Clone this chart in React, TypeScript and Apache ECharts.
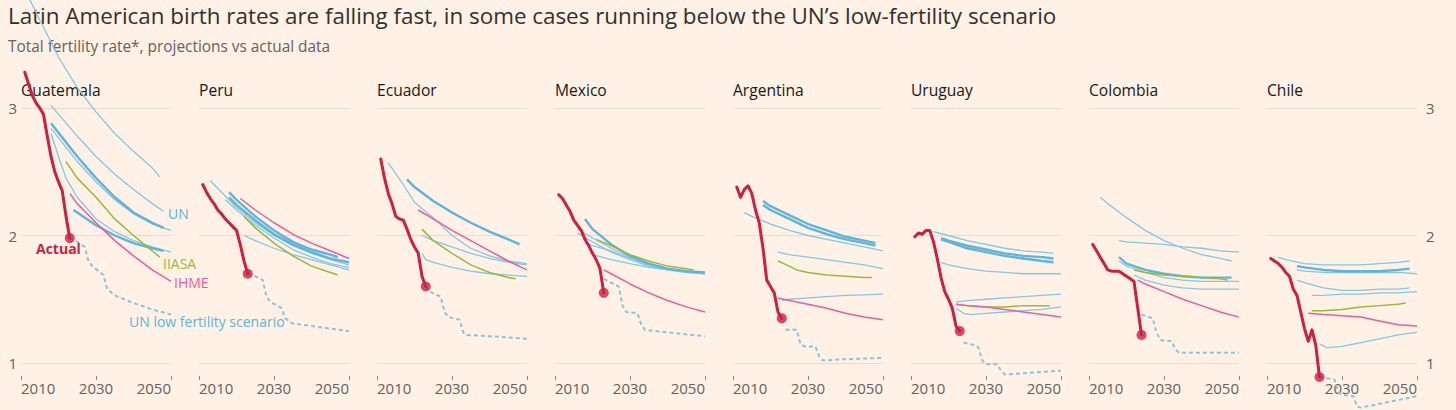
import React, { useEffect, useRef } from "react";
import * as echarts from "echarts";

// ---------- DATA ----------
const countries = ["Guatemala", "Peru", "Ecuador", "Mexico", "Argentina", "Uruguay", "Colombia", "Chile"];
const xTicks = [2010, 2030, 2050];
const yTicks = [1, 2, 3];

// Guatemala
const guatemalaActual = [[2011, 3.28], [2012, 3.19], [2013, 3.1], [2014, 3.04], [2015, 3.0], [2016, 2.95], [2017, 2.78], [2018, 2.62], [2019, 2.5], [2020, 2.42], [2021, 2.35], [2022, 2.15], [2023, 1.98]];
const guatemalaUN = [
  [[2012, 3.87], [2015, 3.69], [2020, 3.4], [2025, 3.16], [2030, 2.97], [2035, 2.8], [2040, 2.66], [2045, 2.53], [2047, 2.46]],
  [[2018, 3.02], [2025, 2.78], [2030, 2.62], [2035, 2.48], [2040, 2.36], [2045, 2.25], [2048, 2.19]],
  [[2018, 2.88], [2025, 2.62], [2030, 2.45], [2035, 2.3], [2040, 2.18], [2045, 2.1], [2048, 2.06]],
  [[2018, 2.84], [2025, 2.58], [2030, 2.42], [2035, 2.28], [2040, 2.17], [2045, 2.09], [2050, 2.04]],
  [[2018, 2.8], [2020, 2.62], [2022, 2.45], [2025, 2.3], [2030, 2.13], [2035, 2.03], [2040, 1.96], [2045, 1.91], [2050, 1.87]],
  [[2024, 2.2], [2030, 2.08], [2035, 2.0], [2040, 1.94], [2045, 1.9], [2048, 1.88]],
];
const guatemalaIIASA = [[2022, 2.58], [2025, 2.45], [2030, 2.3], [2035, 2.13], [2040, 2.0], [2045, 1.88], [2047, 1.83]];
const guatemalaIHME = [[2023, 2.33], [2025, 2.25], [2030, 2.1], [2035, 1.96], [2040, 1.84], [2045, 1.73], [2050, 1.64]];
const guatemalaLow = [[2023, 1.98], [2025, 1.95], [2027, 1.91], [2028, 1.8], [2029, 1.76], [2032, 1.69], [2033, 1.58], [2035, 1.53], [2040, 1.47], [2045, 1.42], [2050, 1.38]];

// Peru
const peruActual = [[2011, 2.4], [2012, 2.34], [2013, 2.29], [2014, 2.25], [2015, 2.2], [2016, 2.17], [2017, 2.13], [2018, 2.1], [2019, 2.07], [2020, 2.04], [2021, 1.93], [2022, 1.8], [2023, 1.7]];
const peruUN = [
  [[2013, 2.43], [2020, 2.22], [2025, 2.1], [2030, 2.0], [2035, 1.92], [2040, 1.86], [2045, 1.81], [2050, 1.77]],
  [[2018, 2.34], [2020, 2.28], [2025, 2.15], [2030, 2.04], [2035, 1.95], [2040, 1.89], [2045, 1.85], [2047, 1.83]],
  [[2018, 2.3], [2020, 2.24], [2025, 2.12], [2030, 2.01], [2035, 1.93], [2040, 1.87], [2045, 1.82], [2050, 1.79]],
  [[2017, 2.28], [2020, 2.2], [2025, 2.08], [2030, 1.98], [2035, 1.89], [2040, 1.83], [2045, 1.78], [2050, 1.75]],
  [[2022, 2.0], [2025, 1.96], [2030, 1.9], [2035, 1.85], [2040, 1.81], [2045, 1.77], [2050, 1.73]],
];
const peruIIASA = [[2022, 2.15], [2025, 2.06], [2030, 1.94], [2035, 1.84], [2040, 1.76], [2045, 1.71], [2047, 1.69]];
const peruIHME = [[2021, 2.29], [2025, 2.2], [2030, 2.1], [2035, 2.01], [2040, 1.94], [2045, 1.88], [2050, 1.82]];
const peruLow = [[2023, 1.7], [2025, 1.68], [2027, 1.65], [2028, 1.52], [2029, 1.48], [2032, 1.43], [2033, 1.35], [2035, 1.31], [2040, 1.29], [2045, 1.27], [2050, 1.25]];

// Ecuador
const ecuadorActual = [[2011, 2.6], [2012, 2.45], [2013, 2.33], [2014, 2.25], [2015, 2.15], [2016, 2.13], [2017, 2.12], [2018, 2.05], [2019, 1.97], [2020, 1.91], [2021, 1.86], [2022, 1.68], [2023, 1.6]];
const ecuadorUN = [
  [[2013, 2.57], [2017, 2.4], [2020, 2.26], [2025, 2.14], [2030, 2.0], [2035, 1.9], [2040, 1.84], [2045, 1.8], [2050, 1.78]],
  [[2018, 2.44], [2020, 2.38], [2025, 2.27], [2030, 2.18], [2035, 2.1], [2040, 2.03], [2045, 1.97], [2048, 1.93]],
  [[2022, 2.0], [2025, 1.96], [2030, 1.91], [2035, 1.86], [2040, 1.82], [2045, 1.79], [2050, 1.77]],
  [[2022, 1.86], [2023, 1.81], [2025, 1.79], [2030, 1.75], [2035, 1.72], [2040, 1.7], [2045, 1.69], [2050, 1.68]],
];
const ecuadorIIASA = [[2022, 2.05], [2025, 1.96], [2030, 1.86], [2035, 1.77], [2040, 1.71], [2045, 1.67], [2047, 1.66]];
const ecuadorIHME = [[2021, 2.2], [2025, 2.13], [2030, 2.04], [2035, 1.96], [2040, 1.88], [2045, 1.8], [2050, 1.73]];
const ecuadorLow = [[2023, 1.6], [2024, 1.56], [2027, 1.52], [2028, 1.4], [2029, 1.36], [2032, 1.34], [2033, 1.24], [2034, 1.22], [2040, 1.21], [2050, 1.19]];

// Mexico
const mexicoActual = [[2011, 2.32], [2012, 2.29], [2013, 2.24], [2014, 2.19], [2015, 2.12], [2016, 2.08], [2017, 2.04], [2018, 1.97], [2019, 1.92], [2020, 1.86], [2021, 1.81], [2022, 1.74], [2023, 1.55]];
const mexicoUN = [
  [[2018, 2.13], [2020, 2.05], [2025, 1.93], [2030, 1.84], [2035, 1.78], [2040, 1.74], [2045, 1.72], [2050, 1.71]],
  [[2016, 2.05], [2020, 1.98], [2025, 1.9], [2030, 1.83], [2035, 1.78], [2040, 1.74], [2045, 1.72], [2050, 1.7]],
  [[2016, 2.02], [2020, 1.95], [2025, 1.87], [2030, 1.81], [2035, 1.76], [2040, 1.73], [2045, 1.71], [2050, 1.7]],
  [[2018, 1.94], [2020, 1.92], [2025, 1.88], [2030, 1.82], [2035, 1.77], [2040, 1.74], [2045, 1.72], [2050, 1.71]],
  [[2020, 1.85], [2025, 1.81], [2030, 1.78], [2035, 1.75], [2040, 1.73], [2045, 1.71], [2050, 1.7]],
];
const mexicoIIASA = [[2021, 1.97], [2025, 1.92], [2030, 1.85], [2035, 1.8], [2040, 1.76], [2045, 1.74], [2047, 1.73]];
const mexicoIHME = [[2023, 1.73], [2025, 1.7], [2030, 1.62], [2035, 1.55], [2040, 1.49], [2045, 1.44], [2050, 1.4]];
const mexicoLow = [[2023, 1.66], [2025, 1.63], [2027, 1.6], [2028, 1.45], [2029, 1.4], [2032, 1.39], [2033, 1.3], [2034, 1.26], [2040, 1.24], [2050, 1.21]];

// Argentina
const argentinaActual = [[2011, 2.38], [2012, 2.3], [2013, 2.36], [2014, 2.39], [2015, 2.33], [2016, 2.2], [2017, 2.1], [2018, 1.9], [2019, 1.65], [2020, 1.6], [2021, 1.55], [2022, 1.4], [2023, 1.35]];
const argentinaUN = [
  [[2018, 2.27], [2020, 2.23], [2025, 2.16], [2030, 2.09], [2035, 2.04], [2040, 1.99], [2045, 1.96], [2048, 1.94]],
  [[2018, 2.24], [2020, 2.2], [2025, 2.13], [2030, 2.06], [2035, 2.01], [2040, 1.97], [2045, 1.94], [2048, 1.92]],
  [[2013, 2.18], [2015, 2.15], [2020, 2.09], [2025, 2.04], [2030, 2.0], [2035, 1.97], [2040, 1.94], [2045, 1.91], [2050, 1.88]],
  [[2022, 1.87], [2025, 1.85], [2030, 1.83], [2035, 1.81], [2040, 1.79], [2045, 1.77], [2050, 1.74]],
  [[2023, 1.49], [2025, 1.5], [2030, 1.51], [2035, 1.52], [2040, 1.53], [2045, 1.535], [2050, 1.54]],
];
const argentinaIIASA = [[2022, 1.8], [2025, 1.76], [2027, 1.73], [2030, 1.71], [2035, 1.69], [2040, 1.68], [2045, 1.67], [2047, 1.67]];
const argentinaIHME = [[2022, 1.51], [2025, 1.49], [2030, 1.46], [2035, 1.43], [2040, 1.39], [2045, 1.36], [2050, 1.34]];
const argentinaLow = [[2024, 1.26], [2027, 1.26], [2028, 1.15], [2029, 1.13], [2032, 1.13], [2033, 1.05], [2034, 1.02], [2040, 1.03], [2050, 1.04]];

// Uruguay
const uruguayActual = [[2011, 1.99], [2012, 2.02], [2013, 2.01], [2014, 2.04], [2015, 2.04], [2016, 1.95], [2017, 1.82], [2018, 1.67], [2019, 1.56], [2020, 1.5], [2021, 1.43], [2022, 1.29], [2023, 1.25]];
const uruguayUN = [
  [[2016, 2.03], [2020, 2.0], [2025, 1.96], [2030, 1.93], [2035, 1.9], [2040, 1.88], [2045, 1.87], [2048, 1.86]],
  [[2018, 1.98], [2020, 1.96], [2025, 1.92], [2030, 1.89], [2035, 1.86], [2040, 1.84], [2045, 1.83], [2048, 1.82]],
  [[2018, 1.97], [2020, 1.95], [2025, 1.9], [2030, 1.87], [2035, 1.84], [2040, 1.82], [2045, 1.8], [2048, 1.79]],
  [[2018, 1.79], [2020, 1.77], [2025, 1.74], [2030, 1.72], [2035, 1.71], [2040, 1.7], [2045, 1.7], [2050, 1.7]],
  [[2022, 1.48], [2025, 1.49], [2030, 1.5], [2035, 1.51], [2040, 1.52], [2045, 1.53], [2050, 1.54]],
  [[2022, 1.43], [2024, 1.39], [2026, 1.38], [2030, 1.39], [2035, 1.4], [2040, 1.41], [2045, 1.42], [2050, 1.44]],
];
const uruguayIIASA = [[2022, 1.46], [2025, 1.45], [2030, 1.44], [2035, 1.44], [2040, 1.45], [2045, 1.45], [2047, 1.45]];
const uruguayIHME = [[2022, 1.46], [2025, 1.45], [2030, 1.44], [2035, 1.42], [2040, 1.4], [2045, 1.38], [2050, 1.36]];
const uruguayLow = [[2024, 1.16], [2027, 1.14], [2028, 1.12], [2029, 1.02], [2030, 0.99], [2033, 0.99], [2034, 0.94], [2035, 0.91], [2040, 0.92], [2045, 0.93], [2050, 0.94]];

// Colombia
const colombiaActual = [[2011, 1.93], [2012, 1.88], [2013, 1.83], [2014, 1.78], [2015, 1.73], [2016, 1.72], [2017, 1.72], [2018, 1.72], [2019, 1.7], [2020, 1.68], [2021, 1.66], [2022, 1.64], [2023, 1.43], [2024, 1.22]];
const colombiaUN = [
  [[2013, 2.3], [2015, 2.25], [2020, 2.14], [2025, 2.04], [2030, 1.96], [2035, 1.9], [2040, 1.85], [2045, 1.82], [2048, 1.8]],
  [[2018, 1.96], [2020, 1.95], [2025, 1.94], [2030, 1.93], [2035, 1.91], [2040, 1.9], [2045, 1.88], [2050, 1.87]],
  [[2018, 1.83], [2020, 1.78], [2025, 1.73], [2030, 1.7], [2035, 1.68], [2040, 1.67], [2045, 1.67], [2048, 1.67]],
  [[2018, 1.8], [2020, 1.76], [2025, 1.71], [2030, 1.67], [2035, 1.65], [2040, 1.64], [2045, 1.64], [2050, 1.64]],
  [[2022, 1.69], [2025, 1.65], [2030, 1.61], [2035, 1.59], [2040, 1.58], [2045, 1.58], [2050, 1.58]],
];
const colombiaIIASA = [[2022, 1.73], [2025, 1.71], [2030, 1.69], [2035, 1.68], [2040, 1.67], [2045, 1.66], [2047, 1.65]];
const colombiaIHME = [[2023, 1.65], [2025, 1.62], [2030, 1.56], [2035, 1.5], [2040, 1.45], [2045, 1.4], [2050, 1.36]];
const colombiaLow = [[2024, 1.38], [2027, 1.35], [2028, 1.24], [2029, 1.18], [2032, 1.17], [2033, 1.11], [2034, 1.08], [2040, 1.08], [2050, 1.08]];

// Chile
const chileActual = [[2011, 1.82], [2012, 1.8], [2013, 1.78], [2014, 1.75], [2015, 1.71], [2016, 1.68], [2017, 1.58], [2018, 1.53], [2019, 1.4], [2020, 1.27], [2021, 1.17], [2022, 1.26], [2023, 1.14], [2024, 0.89]];
const chileUN = [
  [[2013, 1.83], [2015, 1.81], [2020, 1.78], [2025, 1.77], [2030, 1.77], [2035, 1.77], [2040, 1.78], [2045, 1.79], [2048, 1.8]],
  [[2018, 1.76], [2020, 1.75], [2025, 1.73], [2030, 1.72], [2035, 1.72], [2040, 1.72], [2045, 1.73], [2048, 1.74]],
  [[2018, 1.73], [2020, 1.72], [2025, 1.71], [2030, 1.71], [2035, 1.71], [2040, 1.71], [2045, 1.71], [2050, 1.7]],
  [[2018, 1.65], [2020, 1.63], [2025, 1.59], [2030, 1.57], [2035, 1.57], [2040, 1.58], [2045, 1.58], [2048, 1.59]],
  [[2022, 1.53], [2025, 1.53], [2030, 1.54], [2035, 1.54], [2040, 1.55], [2045, 1.55], [2050, 1.56]],
  [[2024, 1.15], [2026, 1.12], [2030, 1.13], [2035, 1.16], [2040, 1.19], [2045, 1.22], [2050, 1.24]],
];
const chileIIASA = [[2022, 1.41], [2025, 1.41], [2030, 1.42], [2035, 1.44], [2040, 1.45], [2045, 1.46], [2047, 1.47]];
const chileIHME = [[2021, 1.39], [2025, 1.38], [2030, 1.37], [2035, 1.36], [2040, 1.33], [2045, 1.3], [2050, 1.29]];
const chileLow = [[2024, 0.89], [2026, 0.88], [2028, 0.87], [2029, 0.77], [2030, 0.75], [2033, 0.74], [2034, 0.66], [2035, 0.65], [2040, 0.68], [2045, 0.71], [2050, 0.74]];

const actualSeries = [guatemalaActual, peruActual, ecuadorActual, mexicoActual, argentinaActual, uruguayActual, colombiaActual, chileActual];
const unSeries = [guatemalaUN, peruUN, ecuadorUN, mexicoUN, argentinaUN, uruguayUN, colombiaUN, chileUN];
const iiasaSeries = [guatemalaIIASA, peruIIASA, ecuadorIIASA, mexicoIIASA, argentinaIIASA, uruguayIIASA, colombiaIIASA, chileIIASA];
const ihmeSeries = [guatemalaIHME, peruIHME, ecuadorIHME, mexicoIHME, argentinaIHME, uruguayIHME, colombiaIHME, chileIHME];
const lowSeries = [guatemalaLow, peruLow, ecuadorLow, mexicoLow, argentinaLow, uruguayLow, colombiaLow, chileLow];

// ---------- STYLE (kept apart from data) ----------
const wideUN = [[2, 5], [1, 2], [1], [0], [0, 1], [1, 2], [2], [1]];
const BG = "#FFF1E5";
const C_ACTUAL = "#cc1f41";
const C_UN = "#84c6e4";
const C_UN_WIDE = "#5db4dc";
const C_IIASA = "#9ab83a";
const C_IHME = "#e7609b";
const C_LOW = "#8cc3da";
const C_GRID = "#e8dcd0";
const C_AXIS = "#66605c";
const FONT = "'Open Sans', sans-serif";
const PANEL_LEFT = 21;
const PANEL_STEP = 178;
const PANEL_W = 150;
const PANEL_TOP = 108;
const PANEL_H = 255;

function buildOption() {
  const grid: any[] = [];
  const xAxis: any[] = [];
  const yAxis: any[] = [];
  const series: any[] = [];
  const graphic: any[] = [];

  graphic.push({
    type: "text", left: 8, top: 4,
    style: { text: "Latin American birth rates are falling fast, in some cases running below the UN\u2019s low-fertility scenario", fill: "#33302e", font: `22.4px ${FONT}` },
  });
  graphic.push({
    type: "text", left: 8, top: 39,
    style: { text: "Total fertility rate*, projections vs actual data", fill: "#66605c", font: `15.4px ${FONT}` },
  });

  countries.forEach((name, i) => {
    const left = PANEL_LEFT + i * PANEL_STEP;
    grid.push({ left, top: PANEL_TOP, width: PANEL_W, height: PANEL_H });
    xAxis.push({
      type: "value", gridIndex: i, min: xTicks[0], max: xTicks[xTicks.length - 1], interval: xTicks[1] - xTicks[0],
      offset: 13,
      axisLine: { show: false },
      axisTick: { show: true, length: 4, lineStyle: { color: "#8f8882", width: 1 } },
      splitLine: { show: false },
      axisLabel: {
        show: true, color: C_AXIS, fontSize: 15, fontFamily: FONT, margin: 4,
        alignMinLabel: "left", alignMaxLabel: "right",
        formatter: (v: number) => String(v),
      },
    });
    yAxis.push({
      type: "value", gridIndex: i, min: yTicks[0], max: yTicks[yTicks.length - 1], interval: yTicks[1] - yTicks[0],
      position: i === countries.length - 1 ? "right" : "left",
      axisLine: { show: false }, axisTick: { show: false },
      splitLine: { show: true, lineStyle: { color: C_GRID, width: 1 } },
      axisLabel: { show: i === 0 || i === countries.length - 1, color: C_AXIS, fontSize: 15, fontFamily: FONT, margin: i === 0 ? 4 : 9 },
    });
    graphic.push({
      type: "text", left: left, top: 82,
      style: { text: name, fill: "#1a1817", font: `15.6px ${FONT}` },
    });

    const base = { type: "line", xAxisIndex: i, yAxisIndex: i, symbol: "none", clip: false, silent: true, animation: false };
    unSeries[i].forEach((d, k) => {
      const wide = wideUN[i].includes(k);
      series.push({ ...base, name: "UN", data: d, z: wide ? 3 : 2, lineStyle: { color: wide ? C_UN_WIDE : C_UN, width: wide ? 2.4 : 1.3 } });
    });
    series.push({ ...base, name: "IIASA", data: iiasaSeries[i], z: 4, lineStyle: { color: C_IIASA, width: 1.5 } });
    series.push({ ...base, name: "IHME", data: ihmeSeries[i], z: 4, lineStyle: { color: C_IHME, width: 1.5 } });
    series.push({ ...base, name: "UN low", data: lowSeries[i], z: 3, lineStyle: { color: C_LOW, width: 2, type: [4, 3] } });
    series.push({ ...base, name: "Actual", data: actualSeries[i], z: 6, lineStyle: { color: C_ACTUAL, width: 3, join: "round", cap: "round" } });
    const act = actualSeries[i];
    series.push({
      type: "scatter", xAxisIndex: i, yAxisIndex: i, silent: true, clip: false, z: 7,
      data: [act[act.length - 1]], symbol: "circle", symbolSize: 10, itemStyle: { color: C_ACTUAL },
    });
  });

  // Annotations in the first panel
  const ann = (text: string, x: number, y: number, color: string, bold = false) => ({
    type: "text", left: x, top: y, z: 10,
    style: { text, fill: color, font: `${bold ? "bold " : ""}14px ${FONT}` },
  });
  graphic.push(ann("UN", 168, 206, C_UN_WIDE));
  graphic.push(ann("Actual", 36, 241, C_ACTUAL, true));
  graphic.push(ann("IIASA", 163, 256, C_IIASA));
  graphic.push(ann("IHME", 174, 275, C_IHME));
  graphic.push(ann("UN low fertility scenario", 129, 314, C_UN_WIDE));

  return { animation: false, backgroundColor: BG, grid, xAxis, yAxis, series, graphic };
}

export default function App() {
  const ref = useRef<HTMLDivElement>(null);
  useEffect(() => {
    if (!ref.current) return;
    const chart = echarts.init(ref.current, null, { renderer: "svg" });
    chart.setOption(buildOption() as any);
    return () => chart.dispose();
  }, []);
  return (
    <div style={{ position: "absolute", left: 0, top: 0, width: 1456, height: 410, background: BG }}>
      <div ref={ref} style={{ width: 1456, height: 410 }} />
    </div>
  );
}
